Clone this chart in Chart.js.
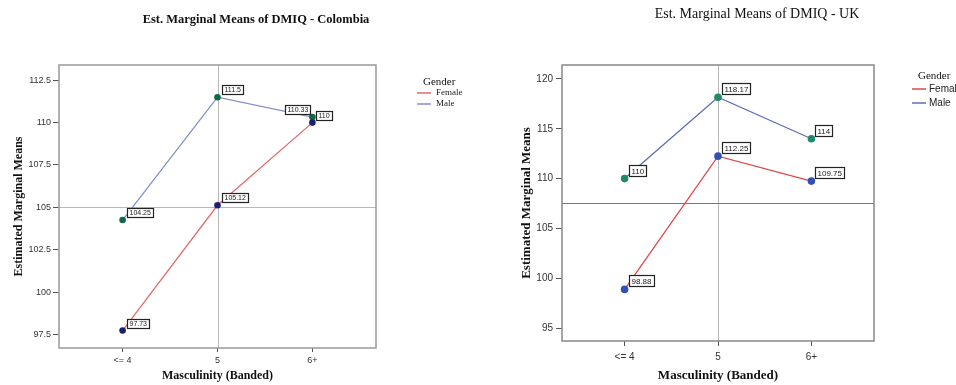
<!DOCTYPE html>
<html>
<head>
<meta charset="utf-8">
<script src="https://cdn.jsdelivr.net/npm/chart.js@4/dist/chart.umd.min.js"></script>
<style>
  body { margin: 0; background: #fff; }
  .wrap { position: absolute; top: 0; }
</style>
</head>
<body>
<div class="wrap" style="left:0"><canvas id="colChart" width="480" height="385"></canvas></div>
<div class="wrap" style="left:480px"><canvas id="ukChart" width="476" height="385"></canvas></div>
<script>
// categories on x
var categories = ['<= 4', '5', '6+']

// Colombia
var colFemale = [97.73, 105.12, 110]
var colMale = [104.25, 111.5, 110.33]
var colTicks = [97.5, 100, 102.5, 105, 107.5, 110, 112.5]
var colRefY = 105

// UK
var ukFemale = [98.88, 112.25, 109.75]
var ukMale = [110, 118.17, 114]
var ukTicks = [95, 100, 105, 110, 115, 120]
var ukRefY = 107.5

var refX = 1

var SERIF = '"Liberation Serif", "Times New Roman", serif'
var SANS = '"Liberation Sans", Arial, sans-serif'

function toPoints(arr) {
  return arr.map(function(v, i) { return { x: i, y: v } })
}

// reference lines, plot frame, value boxes, title and legend
var spssPlugin = {
  id: 'spss',
  beforeDatasetsDraw: function(chart, args, o) {
    var ctx = chart.ctx, a = chart.chartArea
    var px = Math.round(chart.scales.x.getPixelForValue(refX)) + 0.5
    var py = Math.round(chart.scales.y.getPixelForValue(o.refY)) + 0.5
    ctx.save()
    ctx.lineWidth = 1
    ctx.strokeStyle = o.vColor
    ctx.beginPath(); ctx.moveTo(px, a.top); ctx.lineTo(px, a.bottom); ctx.stroke()
    ctx.strokeStyle = o.hColor
    ctx.beginPath(); ctx.moveTo(a.left, py); ctx.lineTo(a.right, py); ctx.stroke()
    ctx.restore()
  },
  afterDatasetsDraw: function(chart, args, o) {
    var ctx = chart.ctx, a = chart.chartArea
    ctx.save()
    ctx.lineWidth = o.frameWidth
    ctx.strokeStyle = o.frameColor
    ctx.strokeRect(a.left, a.top, a.right - a.left, a.bottom - a.top)

    ctx.font = o.labelFont
    ctx.textBaseline = 'middle'
    chart.data.datasets.forEach(function(ds, di) {
      var meta = chart.getDatasetMeta(di)
      meta.data.forEach(function(pt, i) {
        var txt = String(ds.data[i].y)
        var w = Math.ceil(ctx.measureText(txt).width) + 4
        var h = o.boxH
        var side = ds.labelSide ? ds.labelSide[i] : 'r'
        var bx = side == 'l' ? pt.x - 2 - w : pt.x + 4
        var by = pt.y - o.boxGap - h
        bx = Math.round(bx) + 0.5; by = Math.round(by) + 0.5
        ctx.fillStyle = '#fff'
        ctx.fillRect(bx, by, w, h)
        ctx.lineWidth = 1.2
        ctx.strokeStyle = '#222'
        ctx.strokeRect(bx, by, w, h)
        ctx.fillStyle = '#222'
        ctx.textAlign = 'left'
        ctx.fillText(txt, bx + 2, by + h / 2 + 0.5)
      })
    })
    ctx.restore()
  },
  afterDraw: function(chart, args, o) {
    var ctx = chart.ctx
    ctx.save()
    ctx.fillStyle = '#111'
    ctx.textBaseline = 'middle'
    ctx.textAlign = 'center'
    ctx.font = o.titleFont
    ctx.fillText(o.title, o.titleX, o.titleY)

    var lg = o.legend
    ctx.textAlign = 'left'
    ctx.font = lg.headFont
    ctx.fillText('Gender', lg.headX, lg.headY)
    ctx.font = lg.itemFont
    chart.data.datasets.forEach(function(ds, di) {
      var y = lg.itemY + di * lg.itemStep
      ctx.strokeStyle = ds.borderColor
      ctx.lineWidth = 1.5
      ctx.beginPath(); ctx.moveTo(lg.lineX, y); ctx.lineTo(lg.lineX + 14, y); ctx.stroke()
      ctx.fillStyle = '#222'
      ctx.fillText(ds.label, lg.textX, y)
    })
    ctx.restore()
  }
}

function makeChart(id, s) {
  var ctx = document.getElementById(id).getContext('2d')
  return new Chart(ctx, {
    type: 'line',
    data: {
      datasets: [{
        label: 'Female',
        data: toPoints(s.female),
        borderColor: s.femaleLine,
        backgroundColor: s.femalePoint,
        pointBackgroundColor: s.femalePoint,
        pointBorderColor: s.femalePoint,
        borderWidth: 1.3,
        pointRadius: s.pointR,
        pointBorderWidth: 0,
        tension: 0
      }, {
        label: 'Male',
        data: toPoints(s.male),
        borderColor: s.maleLine,
        backgroundColor: s.malePoint,
        pointBackgroundColor: s.malePoint,
        pointBorderColor: s.malePoint,
        borderWidth: 1.3,
        pointRadius: s.pointR,
        pointBorderWidth: 0,
        tension: 0,
        labelSide: s.maleSide
      }]
    },
    plugins: [spssPlugin],
    options: {
      responsive: false,
      animation: false,
      events: [],
      layout: { padding: { left: 0, right: s.padRight, top: 65, bottom: 0 } },
      scales: {
        x: {
          type: 'linear',
          min: -0.67,
          max: 2.67,
          afterBuildTicks: function(sc) { sc.ticks = categories.map(function(c, i) { return { value: i } }) },
          afterFit: function(sc) { sc.height = s.xHeight },
          ticks: {
            callback: function(v) { return categories[v] },
            font: { family: SANS, size: s.tickSize },
            color: '#333',
            padding: s.xTickPad,
            maxRotation: 0
          },
          grid: { drawOnChartArea: false, tickLength: s.xTickLen, color: '#555' },
          border: { display: false },
          title: {
            display: true,
            text: 'Masculinity (Banded)',
            font: { family: SERIF, size: s.axisTitleSize, weight: 'bold' },
            color: '#111',
            padding: { top: 0, bottom: 2 }
          }
        },
        y: {
          min: s.yMin,
          max: s.yMax,
          afterBuildTicks: function(sc) { sc.ticks = s.ticks.map(function(v) { return { value: v } }) },
          afterFit: function(sc) { sc.width = s.yWidth },
          ticks: {
            callback: function(v) { return String(v) },
            font: { family: SANS, size: s.tickSize },
            color: '#333',
            padding: s.yTickPad
          },
          grid: { drawOnChartArea: false, tickLength: 6, color: '#555' },
          border: { display: false },
          title: {
            display: true,
            text: 'Estimated Marginal Means',
            font: { family: SERIF, size: s.axisTitleSize, weight: 'bold' },
            color: '#111',
            padding: { top: s.yTitlePad, bottom: 0 }
          }
        }
      },
      plugins: {
        legend: { display: false },
        tooltip: { enabled: false },
        spss: s.deco
      }
    }
  })
}

makeChart('colChart', {
  female: colFemale,
  male: colMale,
  ticks: colTicks,
  yMin: 96.7, yMax: 113.4,
  femaleLine: '#e66a6a', maleLine: '#8090cc',
  femalePoint: '#1d1f70', malePoint: '#12664a',
  maleSide: ['r', 'r', 'l'],
  pointR: 3.3,
  padRight: 104,
  xHeight: 37, yWidth: 59,
  tickSize: 9, xTickPad: 3, xTickLen: 4, yTickPad: 2,
  axisTitleSize: 12, yTitlePad: 12,
  deco: {
    refY: colRefY,
    vColor: '#b8b8b8', hColor: '#b8b8b8',
    frameColor: '#999', frameWidth: 1.5,
    labelFont: '7px ' + SANS, boxH: 9, boxGap: 3,
    title: 'Est. Marginal Means of DMIQ - Colombia',
    titleFont: 'bold 12.5px ' + SERIF, titleX: 256, titleY: 20,
    legend: { headFont: '11px ' + SERIF, headX: 423, headY: 82, itemFont: '9px ' + SERIF, lineX: 417, textX: 436, itemY: 93, itemStep: 11 }
  }
})

makeChart('ukChart', {
  female: ukFemale,
  male: ukMale,
  ticks: ukTicks,
  yMin: 93.7, yMax: 121.4,
  femaleLine: '#e04848', maleLine: '#5d6fb6',
  femalePoint: '#3450b4', malePoint: '#1f8a6a',
  maleSide: ['r', 'r', 'r'],
  pointR: 3.8,
  padRight: 82,
  xHeight: 44, yWidth: 82,
  tickSize: 10, xTickPad: 5, xTickLen: 5, yTickPad: 3,
  axisTitleSize: 13, yTitlePad: 39,
  deco: {
    refY: ukRefY,
    vColor: '#b8b8b8', hColor: '#777',
    frameColor: '#888', frameWidth: 1.5,
    labelFont: '8px ' + SANS, boxH: 11, boxGap: 3,
    title: 'Est. Marginal Means of DMIQ - UK',
    titleFont: '14px ' + SERIF, titleX: 277, titleY: 14,
    legend: { headFont: '11px ' + SERIF, headX: 438, headY: 76, itemFont: '10px ' + SANS, lineX: 432, textX: 449, itemY: 89, itemStep: 14 }
  }
})
</script>
</body>
</html>
